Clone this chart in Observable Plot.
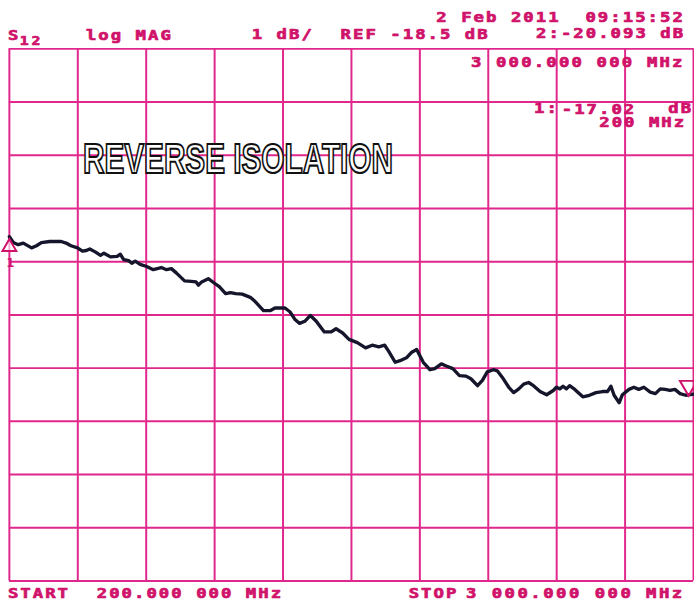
<!DOCTYPE html>
<html>
<head>
<meta charset="utf-8">
<script src="https://cdn.jsdelivr.net/npm/d3@7"></script>
<script src="https://cdn.jsdelivr.net/npm/@observablehq/plot@0.6"></script>
<style>
  html, body { margin: 0; padding: 0; background: #fff; overflow: hidden; width: 694px; height: 612px; }
  #chart svg { display: block; }
</style>
</head>
<body>
<div id="chart"></div>
<script>
// Sweep: START 200 MHz, STOP 3000 MHz, 10 divisions; 1 dB/div, REF -18.5 dB at centre
const xGrid = [200, 480, 760, 1040, 1320, 1600, 1880, 2160, 2440, 2720, 3000];
const yGrid = [-13.5, -14.5, -15.5, -16.5, -17.5, -18.5, -19.5, -20.5, -21.5, -22.5, -23.5];

// S12 trace (MHz, dB)
const freq = [200,216,236,257,291,311,331,365,412,432,452,479,499,515,529,553,573,587,614,641,654,668,688,701,715,735,762,789,822,843,863,883,917,944,964,974,987,1014,1038,1059,1085,1105,1126,1153,1186,1206,1240,1267,1287,1328,1348,1368,1388,1409,1432,1456,1489,1517,1537,1564,1590,1624,1658,1685,1712,1736,1752,1779,1799,1827,1847,1867,1894,1921,1941,1968,1988,2015,2042,2069,2089,2116,2136,2156,2181,2197,2217,2244,2264,2285,2305,2325,2345,2372,2399,2426,2439,2453,2466,2480,2493,2514,2547,2574,2601,2628,2648,2662,2675,2696,2709,2736,2756,2776,2797,2823,2844,2864,2884,2904,2924,2945,2968,3000];
const db = [-17.03,-17.14,-17.18,-17.15,-17.24,-17.20,-17.14,-17.12,-17.12,-17.15,-17.20,-17.24,-17.30,-17.29,-17.26,-17.32,-17.38,-17.34,-17.41,-17.40,-17.36,-17.46,-17.48,-17.53,-17.49,-17.55,-17.59,-17.65,-17.61,-17.65,-17.63,-17.71,-17.86,-17.87,-17.88,-17.94,-17.88,-17.82,-17.90,-17.97,-18.10,-18.08,-18.10,-18.11,-18.17,-18.25,-18.42,-18.42,-18.37,-18.37,-18.44,-18.58,-18.66,-18.62,-18.51,-18.62,-18.82,-18.82,-18.76,-18.84,-18.96,-19.02,-19.12,-19.07,-19.10,-19.07,-19.18,-19.39,-19.36,-19.30,-19.20,-19.15,-19.39,-19.53,-19.51,-19.42,-19.46,-19.51,-19.64,-19.65,-19.70,-19.83,-19.73,-19.57,-19.53,-19.55,-19.67,-19.86,-19.96,-19.89,-19.80,-19.77,-19.83,-19.94,-20.00,-19.92,-19.86,-19.89,-19.84,-19.89,-19.83,-19.90,-20.04,-20.01,-19.96,-19.94,-19.94,-19.84,-20.01,-20.15,-20.00,-19.90,-19.86,-19.90,-19.86,-19.95,-19.98,-19.89,-19.90,-19.92,-19.90,-19.98,-20.01,-19.99];

// markers
const markerNames = ["1", "2"];
const markerFreq = [200, 3000];
const markerDb = [-17.02, -20.093];

const trace = freq.map((f, i) => ({f, v: db[i]}));
const markers = markerNames.map((n, i) => ({n, f: markerFreq[i], v: markerDb[i]}));

const GRID = "#e0278c";
const INK = "#d0126a";
const PEN = "#15152b";

const plot = Plot.plot({
  width: 703,
  height: 612,
  marginTop: 49,
  marginBottom: 24,
  marginLeft: 9,
  marginRight: 1,
  x: {domain: [200, 3000], axis: null},
  y: {domain: [-23.5, -13.5], axis: null},
  marks: [
    Plot.ruleX(xGrid, {stroke: GRID, strokeWidth: 2}),
    Plot.ruleY(yGrid, {stroke: GRID, strokeWidth: 2}),
    Plot.line(trace, {x: "f", y: "v", stroke: PEN, strokeWidth: 3.4, strokeLinejoin: "round", strokeLinecap: "round"}),
    Plot.dot(markers.slice(0, 1), {x: "f", y: "v", symbol: "triangle", r: 5.2, dy: 11, stroke: INK, strokeWidth: 2, fill: "white", fillOpacity: 0.6}),
    Plot.text(markers.slice(0, 1), {x: "f", y: "v", text: "n", dy: 27, dx: 1, fill: INK, fontSize: 13, fontWeight: "bold", fontFamily: "DejaVu Sans Mono"}),
    Plot.dot(markers.slice(1), {x: "f", y: "v", symbol: "triangle", rotate: 180, r: 6.5, dx: -5, dy: -14, stroke: INK, strokeWidth: 2, fill: "none"})
  ]
});
document.getElementById("chart").appendChild(plot);

const svg = d3.select(plot);
const layer = svg.append("g").attr("text-anchor", "start");
// plotter-style lettering: monospace glyphs widened, 12.6 px pitch
const SX = 1.25, FS = 14;
function label(str, x, y, pitch = 12.6, fs = FS) {
  const adv = 0.602 * fs * SX;
  return layer.append("g")
    .attr("transform", `translate(${x},${y}) scale(${SX},1)`)
    .append("text")
    .attr("x", 0).attr("y", 0)
    .attr("text-anchor", "start")
    .attr("fill", INK)
    .attr("stroke", INK).attr("stroke-width", 0.7)
    .attr("stroke-linejoin", "round")
    .attr("font-family", "DejaVu Sans Mono")
    .attr("font-weight", "bold")
    .attr("font-size", fs)
    .attr("letter-spacing", `${((pitch - adv) / SX).toFixed(2)}px`)
    .text(str);
}
// header
label("2 Feb 2011  09:15:52", 442, 22);
label("S", 8, 41);
label("12", 20, 46, 12, 12);
label("log MAG", 87, 40.5);
label("1 dB/", 255, 40);
label("REF -18.5 dB", 345, 39.5);
label("2:-20.093 dB", 543, 38.5);
// marker readouts
label("3 000.000 000 MHz", 477, 68, 12.75);
label("1:", 541, 114);
label("-17.02", 569, 115);
label("dB", 677, 114);
label("200 MHz", 607, 129);
// footer
label("START", 8, 606);
label("200.000 000 MHz", 98, 606);
label("STOP", 414, 606);
label("3 000.000 000 MHz", 472, 606, 13.05);

// title annotation
layer.append("text")
  .attr("x", 84).attr("y", 175)
  .attr("text-anchor", "start")
  .attr("font-family", "'Liberation Sans Narrow', 'Liberation Sans', Arial, sans-serif")
  .attr("font-weight", "bold")
  .attr("font-size", 44)
  .attr("textLength", 314)
  .attr("lengthAdjust", "spacingAndGlyphs")
  .attr("fill", "white")
  .attr("stroke", "#111")
  .attr("stroke-width", 2.2)
  .attr("stroke-linejoin", "miter")
  .text("REVERSE ISOLATION");
</script>
</body>
</html>
